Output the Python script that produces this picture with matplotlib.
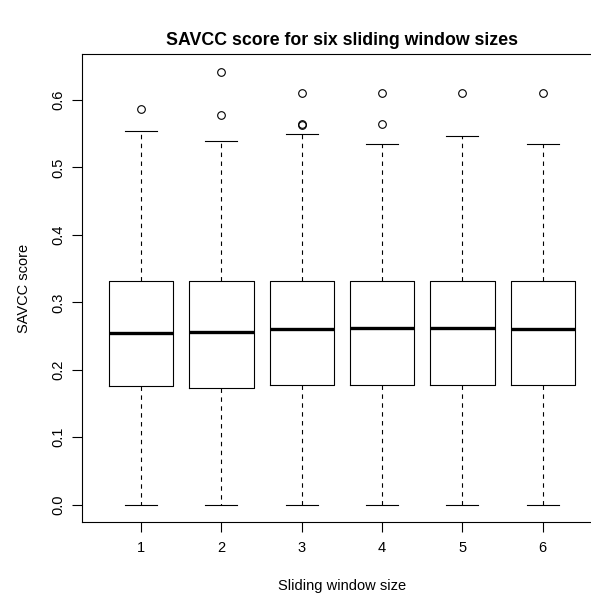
import matplotlib
matplotlib.use("Agg")
import matplotlib.pyplot as plt

# ----------------------------
# Data
# ----------------------------
window_sizes = [1, 2, 3, 4, 5, 6]
q1 = [0.176, 0.173, 0.178, 0.178, 0.178, 0.1775]
medians = [0.254, 0.256, 0.260, 0.2625, 0.262, 0.260]
q3 = [0.332, 0.332, 0.332, 0.332, 0.331, 0.331]
whisker_low = [0.0, 0.0, 0.0, 0.0, 0.0, 0.0]
whisker_high = [0.554, 0.539, 0.549, 0.534, 0.547, 0.534]
outliers = [
    [0.5865],
    [0.642, 0.578],
    [0.611, 0.563, 0.565],
    [0.611, 0.565],
    [0.611],
    [0.611],
]
y_ticks = [0.0, 0.1, 0.2, 0.3, 0.4, 0.5, 0.6]

plt.rcParams["font.family"] = ["Liberation Sans", "DejaVu Sans"]

stats = []
for i in range(len(window_sizes)):
    stats.append({
        "med": medians[i], "q1": q1[i], "q3": q3[i],
        "whislo": whisker_low[i], "whishi": whisker_high[i],
        "fliers": outliers[i], "label": str(window_sizes[i]),
    })

fig = plt.figure(figsize=(5.91, 5.95), dpi=100)
ax = fig.add_axes([0.138, 0.1227, 0.881, 0.786])

ax.bxp(
    stats, positions=window_sizes, widths=0.8,
    boxprops=dict(color="black", linewidth=0.8),
    medianprops=dict(color="black", linewidth=2.4, solid_capstyle="butt"),
    whiskerprops=dict(color="black", linewidth=0.8, linestyle=(0, (4, 4))),
    capprops=dict(color="black", linewidth=0.8),
    capwidths=0.4,
    flierprops=dict(marker="o", markerfacecolor="none", markeredgecolor="black",
                    markersize=5.5, markeredgewidth=0.8),
)

ax.set_xlim(0.26, 6.74)
ax.set_ylim(-0.0257, 0.6677)
ax.set_yticks(y_ticks)
ax.set_yticklabels([f"{t:.1f}" for t in y_ticks], rotation=90, va="center")
ax.set_xticks(window_sizes)
ax.set_xticklabels([str(w) for w in window_sizes])
ax.tick_params(axis="both", direction="out", length=7, width=0.8,
               labelsize=10.5, colors="black")
ax.tick_params(axis="x", pad=7)
ax.tick_params(axis="y", pad=5)
for sp in ax.spines.values():
    sp.set_linewidth(0.8)

ax.set_xlabel("Sliding window size", fontsize=10.5, labelpad=17)
ax.set_ylabel("SAVCC score", fontsize=10.5, labelpad=14)
fig.text(0.579, 0.932, "SAVCC score for six sliding window sizes",
         ha="center", va="center", fontsize=12.8, fontweight="bold")

fig.savefig("out.png", dpi=100)
